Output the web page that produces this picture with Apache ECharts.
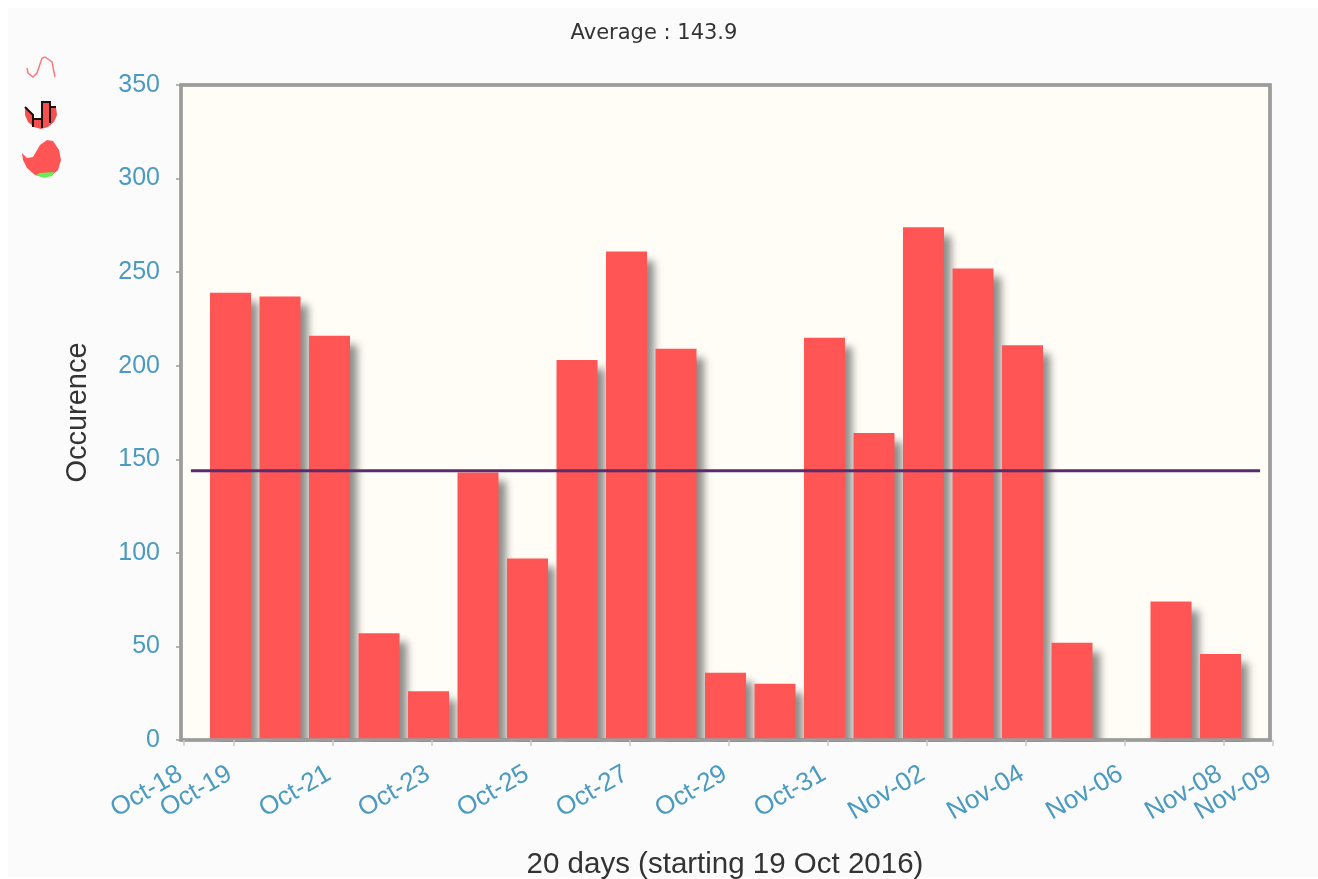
<!DOCTYPE html>
<html><head><meta charset="utf-8">
<style>html,body{margin:0;padding:0;background:#fff;overflow:hidden}#c{width:1318px;height:879px}</style>
<script src="https://cdn.jsdelivr.net/npm/echarts@6/dist/echarts.min.js"></script>
</head><body><div id="c"></div>
<script>
const dayLabels = ['Oct-18','Oct-19','Oct-20','Oct-21','Oct-22','Oct-23','Oct-24','Oct-25','Oct-26','Oct-27','Oct-28','Oct-29','Oct-30','Oct-31','Nov-01','Nov-02','Nov-03','Nov-04','Nov-05','Nov-06','Nov-07','Nov-08','Nov-09'];
const innerLabels = ['Oct-19','Oct-21','Oct-23','Oct-25','Oct-27','Oct-29','Oct-31','Nov-02','Nov-04','Nov-06','Nov-08'];
const endLabels = ['Oct-18','Nov-09'];
const occurrences = [null,239,237,216,57,26,143,97,203,261,209,36,30,215,164,274,252,211,52,0,74,46,null];
const averageValue = 143.9;
const averageSpan = [[0.2,averageValue],[21.8,averageValue]];
const titleText = 'Average : 143.9';
const xTitle = '20 days (starting 19 Oct 2016)';
const yTitle = 'Occurence';

const blue = '#4b9ac0';
const labelStyle = {rotate:30,margin:30,padding:[0,4,0,0],hideOverlap:false,fontFamily:'Liberation Sans',fontSize:26,color:blue};
const tickStyle = {show:true,length:6,lineStyle:{color:'#c8c8c8',width:1.5}};
const inInner = (i) => innerLabels.includes(dayLabels[i]);
const inEnds = (i) => endLabels.includes(dayLabels[i]);
const chart = echarts.init(document.getElementById('c'), null, {renderer:'canvas'});
chart.setOption({
  animation:false,
  backgroundColor:'#ffffff',
  graphic:[
    {type:'rect',z:-10,silent:true,shape:{x:8,y:8,width:1310,height:869},style:{fill:'#fbfbfb'}},
    {type:'polyline',z:10,shape:{points:[[27,68],[28,73],[33,77],[37,73],[42,58],[45,57],[52,62],[55,77]]},style:{stroke:'#ff7878',fill:null,lineWidth:1.5}},
    {type:'polygon',z:10,shape:{points:[[25,107],[33,115],[33,119],[42,119],[42,102],[50,102],[50,107],[56,107],[57,115],[54,122],[48,127],[41,129],[34,127],[28,122],[25,115]]},style:{fill:'#f55050'}},
    {type:'polyline',z:11,shape:{points:[[25,107],[33,115],[33,127]]},style:{stroke:'#1a1212',fill:null,lineWidth:2}},
    {type:'polyline',z:11,shape:{points:[[33,119],[42,119],[42,128]]},style:{stroke:'#1a1212',fill:null,lineWidth:2}},
    {type:'polyline',z:11,shape:{points:[[42,119],[42,102],[50,102],[50,123]]},style:{stroke:'#1a1212',fill:null,lineWidth:2}},
    {type:'polyline',z:11,shape:{points:[[50,107],[56,107]]},style:{stroke:'#1a1212',fill:null,lineWidth:2}},
    {type:'polygon',z:10,shape:{points:[[22,153],[27,158],[33,157],[40,145],[47,140],[53,141],[59,150],[61,160],[58,170],[52,175],[43,177],[35,175],[27,168],[23,160]]},style:{fill:'#ff5555'}},
    {type:'polygon',z:11,shape:{points:[[36,175],[40,173],[54,172],[52,176],[44,178]]},style:{fill:'#66ee55'}},
    {type:'rect',z:4,silent:true,shape:{x:170,y:742,width:1130,height:20},style:{fill:'#fbfbfb'}},
    {type:'rect',z:4,silent:true,shape:{x:181,y:85,width:1089,height:655},style:{fill:null,stroke:'#9c9c9c',lineWidth:3.5}}
  ],
  title:{text:titleText,left:649,top:18,textAlign:'center',textStyle:{fontFamily:'DejaVu Sans',fontSize:21,fontWeight:'normal',color:'#333'}},
  grid:[
    {left:181,top:85,width:1089,height:655,show:true,outerBoundsMode:'none',backgroundColor:'#fffdf6',borderColor:'#9c9c9c',borderWidth:3,z:1},
    {left:184,top:85,width:1089,height:655,show:false,outerBoundsMode:'none'}
  ],
  xAxis:[
    {type:'category',gridIndex:0,data:dayLabels,boundaryGap:false,axisLine:{show:false},axisTick:{show:false},axisLabel:{show:false},splitLine:{show:false}},
    {type:'category',gridIndex:1,data:dayLabels,boundaryGap:false,position:'bottom',z:6,
      name:xTitle,nameLocation:'middle',nameGap:110,nameTextStyle:{fontFamily:'Liberation Sans',fontSize:29.5,color:'#333',padding:[0,7,0,0]},
      axisLine:{show:false},
      axisTick:{...tickStyle,interval:(i)=>inInner(i)},
      axisLabel:{...labelStyle,interval:(i)=>inInner(i)},
      splitLine:{show:false}},
    {type:'value',gridIndex:0,min:0,max:22,show:false},
    {type:'category',gridIndex:1,data:dayLabels,boundaryGap:false,position:'bottom',z:6,
      axisLine:{show:false},
      axisTick:{...tickStyle,interval:(i)=>inEnds(i)},
      axisLabel:{...labelStyle,interval:(i)=>inEnds(i)},
      splitLine:{show:false}}
  ],
  yAxis:[
    {type:'value',gridIndex:0,min:0,max:350,interval:50,
      name:yTitle,nameLocation:'middle',nameGap:89,nameRotate:90,nameTextStyle:{fontFamily:'Liberation Sans',fontSize:29,color:'#333'},
      axisLine:{show:false},axisTick:{show:true,length:5,lineStyle:{color:'#9c9c9c',width:1.5}},
      axisLabel:{margin:21,fontFamily:'Liberation Sans',fontSize:25,color:blue},
      splitLine:{lineStyle:{color:'#efece4',width:1.5}}},
    {type:'value',gridIndex:1,min:0,max:350,show:false}
  ],
  series:[
    {type:'bar',xAxisIndex:0,yAxisIndex:0,data:occurrences,barWidth:41,z:3,
      itemStyle:{color:'#ff5555',shadowColor:'rgba(0,0,0,0.45)',shadowBlur:8,shadowOffsetX:7,shadowOffsetY:9}},
    {type:'line',xAxisIndex:2,yAxisIndex:0,data:averageSpan,symbol:'none',z:5,lineStyle:{color:'#5a2c6c',width:3}},
    {type:'line',xAxisIndex:1,yAxisIndex:1,data:[],symbol:'none'},
    {type:'line',xAxisIndex:3,yAxisIndex:1,data:[],symbol:'none'}
  ]
});
</script></body></html>
